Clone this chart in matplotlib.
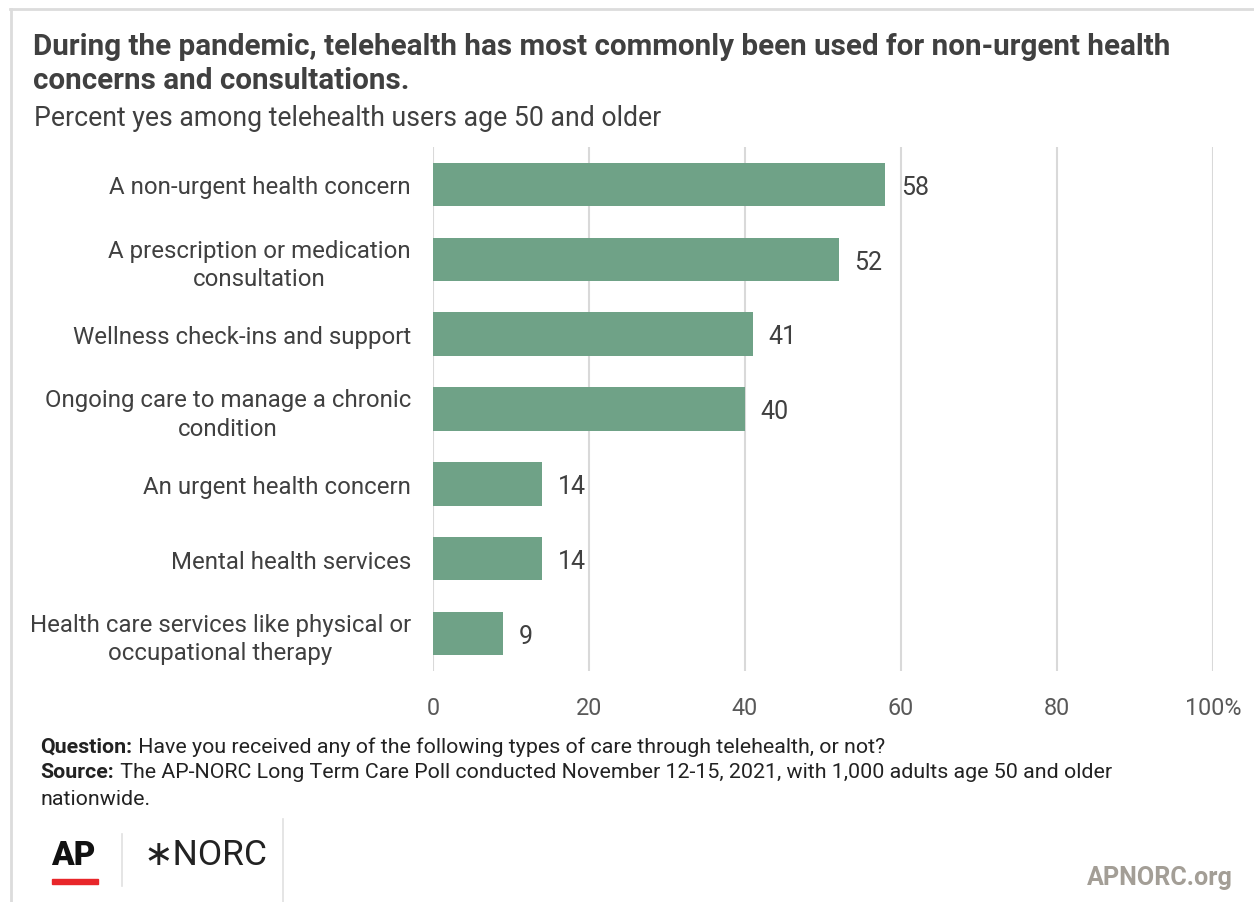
import matplotlib.pyplot as plt
from matplotlib.lines import Line2D
from matplotlib.patches import Rectangle
from matplotlib.transforms import ScaledTranslation

categories = [
    'A non-urgent health concern',
    'A prescription or medication\nconsultation',
    'Wellness check-ins and support',
    'Ongoing care to manage a chronic\ncondition',
    'An urgent health concern',
    'Mental health services',
    'Health care services like physical or\noccupational therapy',
]
values = [58, 52, 41, 40, 14, 14, 9]
ticks = [0, 20, 40, 60, 80, 100]
tick_labels = ['0', '20', '40', '60', '80', '100%']

plt.rcParams['font.family'] = ['Roboto', 'DejaVu Sans']
text_color = '#404040'
bar_color = '#6fa287'
grid_color = '#d9d9d9'

W, H = 1254, 903
fig = plt.figure(figsize=(W / 100, H / 100), dpi=100)

# plot area: x 433..1213, y 148..672 (pixels)
ax = fig.add_axes([433 / W, 1 - 672 / H, 780 / W, 524 / H])
pos = list(range(len(categories)))
ax.barh(pos, values, height=0.58, color=bar_color, zorder=3)
ax.set_ylim(len(categories) - 0.5, -0.5)
ax.set_xlim(0, 100)
ax.set_xticks(ticks)
ax.set_xticklabels(tick_labels, fontsize=16.8, color='#595959')
# the "100" sits over its gridline, the % sign hangs to the right
last = ax.get_xticklabels()[-1]
last.set_transform(last.get_transform() + ScaledTranslation(8 / 100, 0, fig.dpi_scale_trans))
ax.set_yticks(pos)
ax.set_yticklabels(categories, fontsize=17.3, color=text_color, linespacing=1.3,
                   ha='right', multialignment='center')
ax.tick_params(length=0, axis='y', pad=15.8)
ax.tick_params(length=0, axis='x', pad=18)
ax.grid(axis='x', color=grid_color, linewidth=1.5, zorder=0)
for s in ax.spines.values():
    s.set_visible(False)

for p, v in zip(pos, values):
    ax.text(v + 2.0, p + 0.03, str(v), va='center', ha='left', fontsize=18, color=text_color)

# title block
fig.text(33 / W, 1 - 64 / H, 'During the pandemic, telehealth has most commonly been used for non-urgent health\nconcerns and consultations.',
         fontsize=21.3, fontweight='bold', color=text_color, va='center', ha='left', linespacing=1.25)
fig.text(34 / W, 1 - 118 / H, 'Percent yes among telehealth users age 50 and older',
         fontsize=19.2, color=text_color, va='center', ha='left')

# footer notes: bold lead-in followed by regular text
renderer = fig.canvas.get_renderer()
notes = [
    ('Question:', ' Have you received any of the following types of care through telehealth, or not?', 747),
    ('Source:', ' The AP-NORC Long Term Care Poll conducted November 12-15, 2021, with 1,000 adults age 50 and older', 773),
]
for head, body, ypx in notes:
    t = fig.text(40 / W, 1 - ypx / H, head, fontsize=15.4, fontweight='bold', color='#222222', va='center', ha='left')
    wpx = t.get_window_extent(renderer).width
    fig.text((40 + wpx + 1) / W, 1 - ypx / H, body, fontsize=15.4, color='#222222', va='center', ha='left')
fig.text(40 / W, 1 - 800 / H, 'nationwide.', fontsize=15.4, color='#222222', va='center', ha='left')

# logos
fig.text(51 / W, 1 - 856 / H, 'AP', fontsize=24, fontweight='heavy', color='#111111', va='center', ha='left')
fig.add_artist(Rectangle((52 / W, 1 - 885 / H), 46 / W, 5 / H, transform=fig.transFigure, color='#e8262a'))
fig.add_artist(Line2D([122 / W, 122 / W], [1 - 835 / H, 1 - 887 / H], transform=fig.transFigure, color='#e0e0e0', lw=1.2))
fig.text(143 / W, 1 - 856 / H, '\u2217NORC', fontsize=25.5, color='#222222', va='center', ha='left')
fig.add_artist(Line2D([283 / W, 283 / W], [1 - 820 / H, 0], transform=fig.transFigure, color='#e0e0e0', lw=1.2))
fig.text(1233 / W, 1 - 878 / H, 'APNORC.org', fontsize=18.1, fontweight='bold', color='#a39e96', va='center', ha='right')

# frame lines
fig.add_artist(Line2D([10 / W, 1], [1 - 10 / H, 1 - 10 / H], transform=fig.transFigure, color='#dcdcdc', lw=2))
fig.add_artist(Line2D([11 / W, 11 / W], [1 - 10 / H, 0], transform=fig.transFigure, color='#dcdcdc', lw=2))

fig.savefig('out.png', dpi=100, facecolor='white')
